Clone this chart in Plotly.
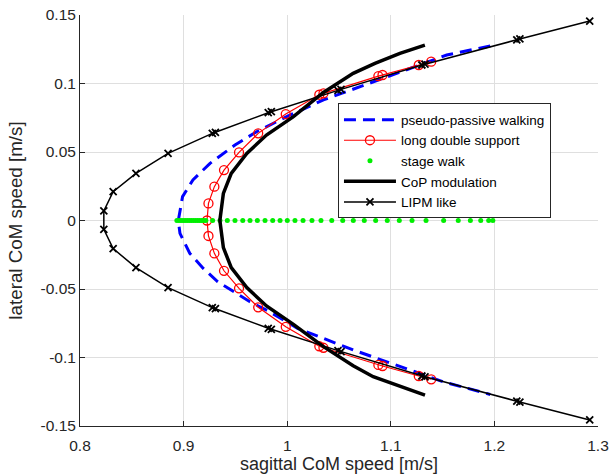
import plotly.graph_objects as go

# ---------------- data ----------------
pp_x = [1.196, 1.154, 1.1056, 1.070, 1.035, 0.9995, 0.9705, 0.9496, 0.9255, 0.909, 0.899, 0.8949,
        0.8965, 0.906, 0.919, 0.933, 0.948, 0.964, 0.983, 1.010, 1.0637, 1.1056, 1.1506, 1.196]
pp_y = [0.1274, 0.1208, 0.1074, 0.0977, 0.0880, 0.0758, 0.0648, 0.0551, 0.0417, 0.0296, 0.0174, 0.0,
        -0.0094, -0.0240, -0.0350, -0.0447, -0.0520, -0.0593, -0.0666, -0.0787, -0.0945, -0.1055, -0.1177, -0.1270]

lds_x = [1.139, 1.127, 1.092, 1.088, 1.035, 1.031, 0.9986, 0.972, 0.9535, 0.939, 0.9297, 0.924, 0.9226,
         0.924, 0.9297, 0.939, 0.9535, 0.972, 0.9986, 1.031, 1.035, 1.088, 1.092, 1.127, 1.139]
lds_y = [0.1159, 0.1135, 0.1062, 0.1054, 0.0928, 0.0918, 0.0777, 0.0636, 0.0497, 0.0368, 0.0247, 0.0125, 0.0,
         -0.0113, -0.0240, -0.0367, -0.0495, -0.0634, -0.0776, -0.0918, -0.0929, -0.1054, -0.1062, -0.1135, -0.1159]

sw_x = [0.8935, 0.8955, 0.8975, 0.8995, 0.9015, 0.9035, 0.9055, 0.9075, 0.9095, 0.9115, 0.9135, 0.9155,
        0.9175, 0.9195, 0.9215, 0.928, 0.9351, 0.9422, 0.9496, 0.9571, 0.9641, 0.9712, 0.9786, 0.9860,
        0.9931, 1.0001, 1.0075, 1.0153, 1.0239, 1.0326, 1.0430, 1.0536, 1.0638, 1.0744, 1.0854, 1.0966,
        1.1082, 1.1205, 1.1340, 1.1510, 1.1651, 1.1768, 1.1868, 1.1945, 1.1985]
sw_y = [0.0] * len(sw_x)

cop_x = [1.1329, 1.1088, 1.0847, 1.0637, 1.035, 1.006, 0.980, 0.961, 0.946, 0.9384, 0.935,
         0.9384, 0.946, 0.961, 0.980, 1.006, 1.035, 1.0637, 1.083, 1.108, 1.133]
cop_y = [0.1280, 0.1220, 0.1147, 0.1074, 0.0935, 0.0758, 0.0624, 0.0490, 0.0344, 0.0198, 0.0,
         -0.0198, -0.0344, -0.0490, -0.0624, -0.0758, -0.0921, -0.1060, -0.1140, -0.1210, -0.1274]

lipm_x = [1.292, 1.2246, 1.2216, 1.133, 1.130, 1.052, 1.049, 0.9847, 0.9817, 0.9307, 0.9277, 0.885,
          0.854, 0.832, 0.823, 0.823, 0.832, 0.854, 0.885, 0.9277, 0.9307, 0.9817, 0.9847, 1.049,
          1.052, 1.130, 1.133, 1.2216, 1.2246, 1.292]
lipm_y = [0.1456, 0.1325, 0.1319, 0.1141, 0.1135, 0.0957, 0.0950, 0.0794, 0.0787, 0.0644, 0.0636, 0.0490,
          0.0344, 0.0210, 0.0070, -0.0065, -0.0205, -0.0344, -0.0490, -0.0636, -0.0644, -0.0787, -0.0794, -0.0950,
          -0.0957, -0.1135, -0.1141, -0.1319, -0.1325, -0.1456]

x_tickvals = [0.8, 0.9, 1.0, 1.1, 1.2, 1.3]
x_ticktext = ["0.8", "0.9", "1", "1.1", "1.2", "1.3"]
y_tickvals = [-0.15, -0.1, -0.05, 0, 0.05, 0.1, 0.15]
y_ticktext = ["-0.15", "-0.1", "-0.05", "0", "0.05", "0.1", "0.15"]

FONT = "Liberation Sans, Arial, Helvetica, sans-serif"
AX = "#262626"

fig = go.Figure()
fig.add_trace(go.Scatter(x=pp_x, y=pp_y, mode="lines", name="pseudo-passive walking",
                         line=dict(color="#0000ff", width=3, dash="12px,7px")))
fig.add_trace(go.Scatter(x=lds_x, y=lds_y, mode="lines+markers", name="long double support",
                         line=dict(color="#ff0000", width=1.2),
                         marker=dict(symbol="circle-open", size=9, color="#ff0000", line=dict(width=1.3))))
fig.add_trace(go.Scatter(x=sw_x, y=sw_y, mode="markers", name="stage walk",
                         marker=dict(symbol="circle", size=5, color="#00ee00")))
fig.add_trace(go.Scatter(x=cop_x, y=cop_y, mode="lines", name="CoP modulation",
                         line=dict(color="#000000", width=3.5)))
fig.add_trace(go.Scatter(x=lipm_x, y=lipm_y, mode="lines+markers", name="LIPM like",
                         line=dict(color="#000000", width=1.5),
                         marker=dict(symbol="x-thin-open", size=7, color="#000000", line=dict(width=1.8))))

fig.update_layout(
    width=610, height=474,
    margin=dict(l=80, r=12, t=15, b=48, autoexpand=False),
    paper_bgcolor="white", plot_bgcolor="white",
    font=dict(family=FONT, color=AX),
    showlegend=True,
    legend=dict(x=0.498, y=0.645, xanchor="left", yanchor="middle",
                bgcolor="white", bordercolor=AX, borderwidth=1,
                font=dict(size=13.5, family=FONT, color="#000000"),
                itemwidth=52, tracegroupgap=0),
)
fig.update_xaxes(range=[0.8, 1.3], tickvals=x_tickvals, ticktext=x_ticktext, automargin=False,
                 ticks="inside", ticklen=5, tickcolor=AX, tickwidth=1,
                 showline=True, linecolor=AX, linewidth=1, mirror=False,
                 showgrid=True, gridcolor="#dfdfdf", gridwidth=1, zeroline=False,
                 tickfont=dict(size=15.5, family=FONT, color=AX), ticklabelstandoff=5,
                 title=dict(text="sagittal CoM speed [m/s]", font=dict(size=18, family=FONT, color=AX), standoff=3))
fig.update_yaxes(range=[-0.15, 0.15], tickvals=y_tickvals, ticktext=y_ticktext, automargin=False,
                 ticks="inside", ticklen=5, tickcolor=AX, tickwidth=1,
                 showline=True, linecolor=AX, linewidth=1, mirror=False,
                 showgrid=True, gridcolor="#dfdfdf", gridwidth=1, zeroline=False,
                 tickfont=dict(size=15.5, family=FONT, color=AX), ticklabelstandoff=0,
                 title=dict(text="lateral CoM speed [m/s]", font=dict(size=18.8, family=FONT, color=AX), standoff=12))

fig.write_html("out.html")
